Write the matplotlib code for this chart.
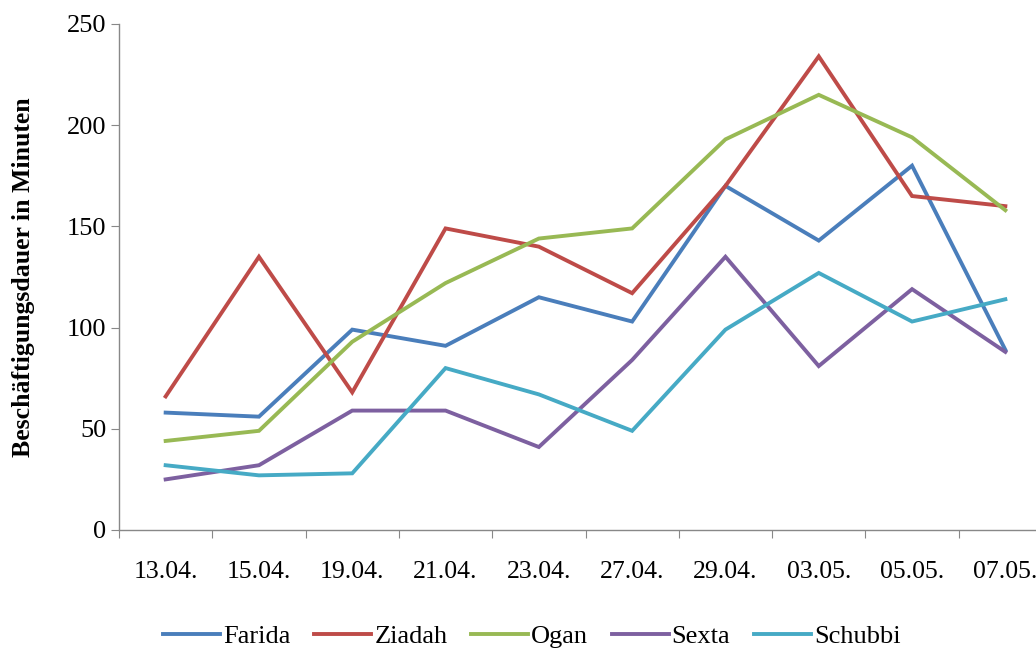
import matplotlib.pyplot as plt

plt.rcParams['font.family'] = ['Liberation Serif', 'DejaVu Serif']

# Beschäftigungsdauer pro Tag und Tier
dates = ['13.04.', '15.04.', '19.04.', '21.04.', '23.04.',
         '27.04.', '29.04.', '03.05.', '05.05.', '07.05.']
farida = [58, 56, 99, 91, 115, 103, 170, 143, 180, 89]
ziadah = [66, 135, 68, 149, 140, 117, 170, 234, 165, 160]
ogan = [44, 49, 93, 122, 144, 149, 193, 215, 194, 158]
sexta = [25, 32, 59, 59, 41, 84, 135, 81, 119, 88]
schubbi = [32, 27, 28, 80, 67, 49, 99, 127, 103, 114]

series = [('Farida', farida, '#4A7EBB'),
          ('Ziadah', ziadah, '#BE4B48'),
          ('Ogan', ogan, '#98B954'),
          ('Sexta', sexta, '#7D60A0'),
          ('Schubbi', schubbi, '#46AAC5')]

fig = plt.figure(figsize=(10.36, 6.51), dpi=100)
W, H = 1036, 651
# plot area runs slightly past the right edge of the figure
ax = fig.add_axes([119 / W, (H - 530) / H, 933 / W, (530 - 24) / H])

x = list(range(len(dates)))
for name, vals, col in series:
    ax.plot(x, vals, color=col, lw=2.8, label=name, solid_joinstyle='miter')

ax.set_xlim(-0.5, len(dates) - 0.5)
ax.set_ylim(0, 250)
ax.set_yticks(range(0, 251, 50))

# category labels in the middle, tick marks between categories
ax.set_xticks([i - 0.5 for i in range(len(dates) + 1)])
ax.set_xticklabels([])
ax.set_xticks(x, minor=True)
ax.set_xticklabels(dates, minor=True)
ax.tick_params(axis='x', which='major', length=6, color='#888888', direction='out')
ax.tick_params(axis='x', which='minor', length=0, pad=22, labelsize=18.5)
ax.tick_params(axis='y', length=6, color='#888888', pad=3, labelsize=19)

for s in ['top', 'right']:
    ax.spines[s].set_visible(False)
for s in ['left', 'bottom']:
    ax.spines[s].set_color('#888888')
    ax.spines[s].set_linewidth(1.0)

ax.set_ylabel('Beschäftigungsdauer in Minuten', fontsize=18.5, fontweight='bold')
ax.yaxis.set_label_coords(-84 / 933, 0.5)

fig.legend(loc='center', bbox_to_anchor=(532 / W, (H - 636) / H), ncol=5,
           frameon=False, fontsize=19, handlelength=2.15, handletextpad=0.12,
           columnspacing=0.9)

fig.savefig('out.png', dpi=100)
